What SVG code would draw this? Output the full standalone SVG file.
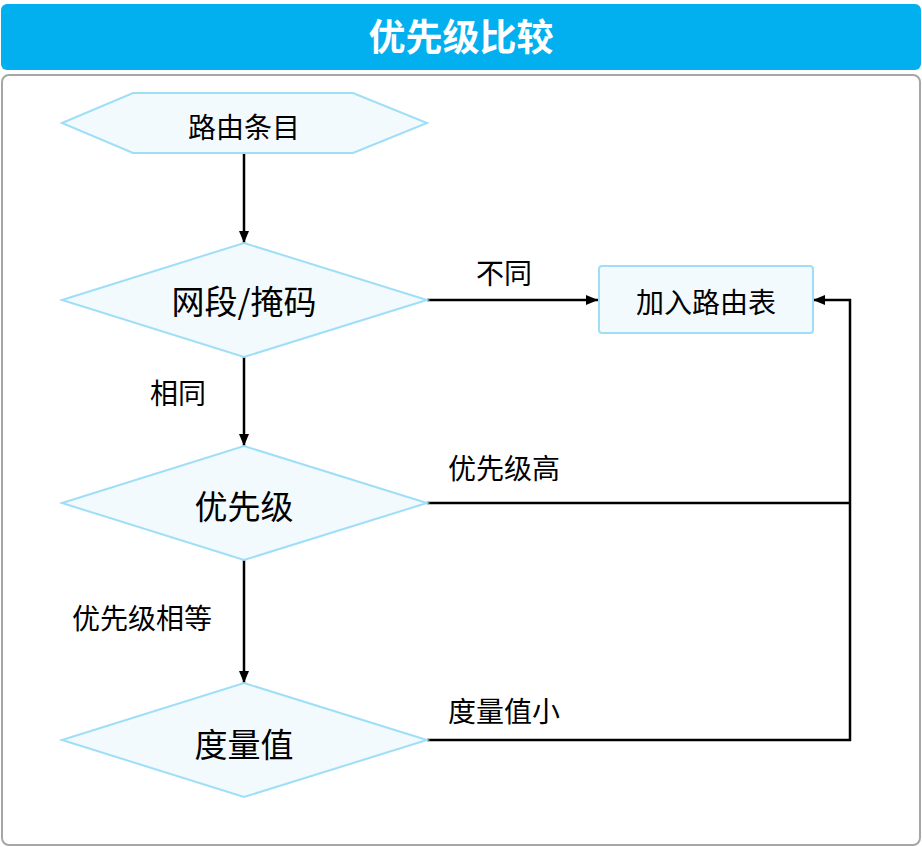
<svg xmlns="http://www.w3.org/2000/svg" width="922" height="847" viewBox="0 0 922 847">
<defs>
<marker id="ah" markerWidth="12" markerHeight="10" refX="12" refY="5" orient="auto" markerUnits="userSpaceOnUse">
<path d="M0,0 L12,5 L0,10 Z" fill="#000"/>
</marker>
<style>
.node{fill:#f2fafe;stroke:#9edff7;stroke-width:2}
.t{font-family:"Noto Sans CJK SC","Noto Sans",sans-serif;fill:#000;text-anchor:middle}
.lbl{font-family:"Noto Sans CJK SC","Noto Sans",sans-serif;fill:#000;font-size:28px}
.c{fill:none;stroke:#000;stroke-width:2.5}
</style>
</defs>
<rect x="0" y="0" width="922" height="847" fill="#fff"/>
<g id="title">
<rect x="1" y="4" width="920" height="66" rx="6" fill="#02b0f0"/>
<text x="461" y="51" class="t" style="fill:#fff;font-weight:bold;font-size:37px">优先级比较</text>
</g>
<rect id="frame" x="2" y="75" width="918" height="770" rx="7" fill="#fff" stroke="#a6a6a6" stroke-width="2"/>
<g id="connectors">
<line x1="244" y1="153" x2="244" y2="243" class="c" marker-end="url(#ah)"/>
<line x1="427" y1="300" x2="598" y2="300" class="c" marker-end="url(#ah)"/>
<line x1="244" y1="357" x2="244" y2="446" class="c" marker-end="url(#ah)"/>
<line x1="244" y1="560" x2="244" y2="683" class="c" marker-end="url(#ah)"/>
<polyline points="427,503 850,503" class="c"/>
<polyline points="427,740 850,740 850,300 813,300" class="c" marker-end="url(#ah)"/>
<text x="504" y="284" class="lbl" text-anchor="middle">不同</text>
<text x="178" y="404" class="lbl" text-anchor="middle">相同</text>
<text x="504" y="479" class="lbl" text-anchor="middle">优先级高</text>
<text x="142" y="629" class="lbl" text-anchor="middle">优先级相等</text>
<text x="504" y="722" class="lbl" text-anchor="middle">度量值小</text>
</g>
<g id="n-start">
<polygon points="62,123 133,93 353,93 427,123 353,153 133,153" class="node"/>
<text x="244" y="138" class="t" style="font-size:28px">路由条目</text>
</g>
<g id="n-mask">
<polygon points="62,300 244,243 427,300 244,357" class="node"/>
<text x="244" y="314" class="t" style="font-size:33px">网段/掩码</text>
</g>
<g id="n-add">
<rect x="599" y="266" width="214" height="67" rx="3" class="node"/>
<text x="706" y="313" class="t" style="font-size:28px">加入路由表</text>
</g>
<g id="n-pri">
<polygon points="62,503 244,446 427,503 244,560" class="node"/>
<text x="244" y="519" class="t" style="font-size:33px">优先级</text>
</g>
<g id="n-metric">
<polygon points="62,740 244,683 427,740 244,797" class="node"/>
<text x="244" y="757" class="t" style="font-size:33px">度量值</text>
</g>
</svg>
